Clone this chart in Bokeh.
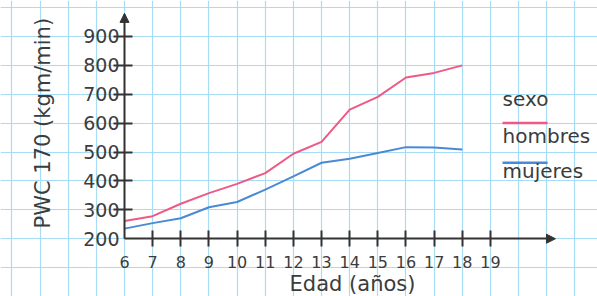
import math
from bokeh.plotting import figure
from bokeh.models import (LinearAxis, FixedTicker, Grid, Range1d, Label, Arrow,
                          NormalHead, ColumnDataSource)
from bokeh.embed import file_html
from bokeh.resources import INLINE

# ---- data ----
edad = [6, 7, 8, 9, 10, 11, 12, 13, 14, 15, 16, 17, 18]
hombres = [261, 278, 321, 358, 390, 427, 494, 535, 647, 691, 758, 774, 800]
mujeres = [235, 254, 271, 309, 327, 370, 416, 463, 477, 497, 517, 516, 509]
x_tick_values = [7, 8, 9, 10, 11, 12, 13, 14, 15, 16, 17, 18, 19]
x_first_label = [6]
y_tick_values = [300, 400, 500, 600, 700, 800, 900]
y_first_label = [200]
x_title = "Edad (años)"
y_title = "PWC 170 (kgm/min)"
legend_title = "sexo"
series_names = ["hombres", "mujeres"]

PINK = "#ec5a85"
BLUE = "#4a8ad4"
TEXT = "#3c3c3c"
AXIS = "#333333"
GRID = "#a8dcf4"
FONT = "DejaVu Sans"

p = figure(width=597, height=296, output_backend="svg", toolbar_location=None,
           x_range=Range1d(1.595, 22.803), y_range=Range1d(0, 1024.6),
           x_axis_location=None, y_axis_location=None, min_border=0,
           outline_line_color=None, background_fill_color="white",
           border_fill_color="white")

# graph-paper grid
p.add_layout(Grid(dimension=0, ticker=FixedTicker(ticks=list(range(2, 23)), minor_ticks=[]),
                  grid_line_color=GRID, grid_line_width=1.2))
p.add_layout(Grid(dimension=1, ticker=FixedTicker(ticks=list(range(0, 1001, 100)), minor_ticks=[]),
                  grid_line_color=GRID, grid_line_width=1.2))

# y axis (drawn at x = 6)
yaxis = LinearAxis(fixed_location=6, bounds=(200, 975),
                   ticker=FixedTicker(ticks=y_tick_values, minor_ticks=[]),
                   axis_line_color=AXIS, axis_line_width=2,
                   major_tick_line_color=AXIS, major_tick_line_width=2,
                   major_tick_in=8, major_tick_out=11, minor_tick_line_color=None,
                   major_label_standoff=-6, major_label_text_font=FONT,
                   major_label_text_font_size="19px", major_label_text_color=TEXT)
p.add_layout(yaxis, "left")
yaxis0 = LinearAxis(fixed_location=6, ticker=FixedTicker(ticks=y_first_label, minor_ticks=[]),
                    axis_line_color=None, major_tick_line_color=None,
                    major_tick_in=0, major_tick_out=11, minor_tick_line_color=None,
                    major_label_standoff=-6, major_label_text_font=FONT,
                    major_label_text_font_size="19px", major_label_text_color=TEXT)
p.add_layout(yaxis0, "left")

# x axis (drawn at y = 200)
xaxis = LinearAxis(fixed_location=200, bounds=(6, 21.1),
                   ticker=FixedTicker(ticks=x_tick_values, minor_ticks=[]),
                   axis_line_color=AXIS, axis_line_width=2,
                   major_tick_line_color=AXIS, major_tick_line_width=2,
                   major_tick_in=8, major_tick_out=8, minor_tick_line_color=None,
                   major_label_standoff=9, major_label_text_font=FONT,
                   major_label_text_font_size="16px", major_label_text_color=TEXT)
p.add_layout(xaxis, "below")
xaxis0 = LinearAxis(fixed_location=200, ticker=FixedTicker(ticks=x_first_label, minor_ticks=[]),
                    axis_line_color=None, major_tick_line_color=None,
                    major_tick_in=0, major_tick_out=8, minor_tick_line_color=None,
                    major_label_standoff=9, major_label_text_font=FONT,
                    major_label_text_font_size="16px", major_label_text_color=TEXT)
p.add_layout(xaxis0, "below")

# arrow heads
p.add_layout(Arrow(end=NormalHead(size=9, fill_color=AXIS, line_color=AXIS, line_width=1),
                   x_start=6, y_start=940, x_end=6, y_end=980, line_alpha=0))
p.add_layout(Arrow(end=NormalHead(size=9, fill_color=AXIS, line_color=AXIS, line_width=1),
                   x_start=20.5, y_start=200, x_end=21.31, y_end=200, line_alpha=0))

# series
src = ColumnDataSource(dict(edad=edad, hombres=hombres, mujeres=mujeres))
p.line("edad", "hombres", source=src, line_color=PINK, line_width=2)
p.line("edad", "mujeres", source=src, line_color=BLUE, line_width=2)

# axis titles
p.add_layout(Label(x=14.1, y=44, text=x_title, text_align="center",
                   text_baseline="alphabetic", text_font=FONT, text_font_size="21px",
                   text_color=TEXT))
p.add_layout(Label(x=3.12, y=600, text=y_title, text_align="center", angle=math.pi / 2,
                   text_baseline="middle", text_font=FONT, text_font_size="21px",
                   text_color=TEXT))

# legend (drawn as in the reference: title, coloured line above each name)
p.add_layout(Label(x=19.43, y=683, text=legend_title, text_align="left",
                   text_baseline="alphabetic", text_font=FONT, text_font_size="20px",
                   text_color=TEXT))
p.segment(x0=[19.43, 19.43], y0=[601, 463], x1=[21.03, 21.03], y1=[601, 463],
          line_color=[PINK, BLUE], line_width=2.5)
p.add_layout(Label(x=19.43, y=557, text=series_names[0], text_align="left",
                   text_baseline="alphabetic", text_font=FONT, text_font_size="20px",
                   text_color=TEXT))
p.add_layout(Label(x=19.43, y=436, text=series_names[1], text_align="left",
                   text_baseline="alphabetic", text_font=FONT, text_font_size="20px",
                   text_color=TEXT))

open("out.html", "w").write(file_html(p, INLINE))
